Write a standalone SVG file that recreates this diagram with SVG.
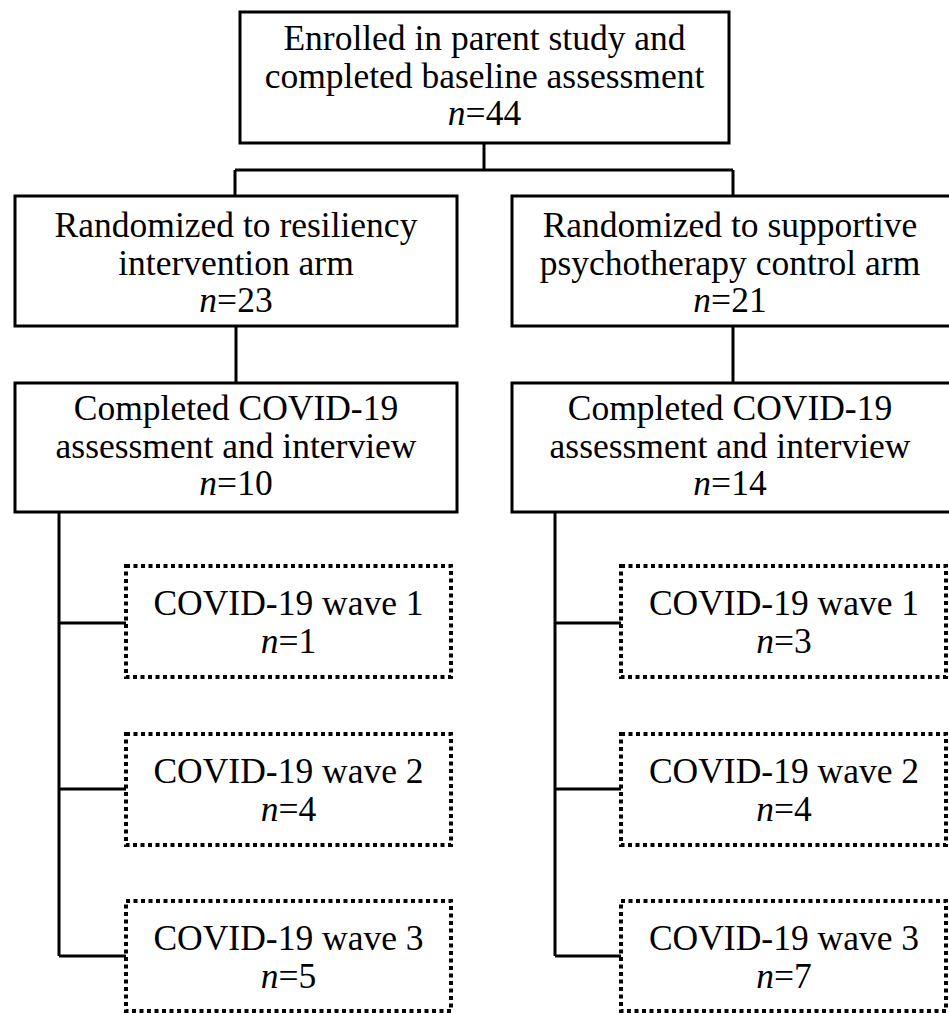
<svg xmlns="http://www.w3.org/2000/svg" width="949" height="1013" viewBox="0 0 949 1013">
<style>
.box{fill:#fff;stroke:#000;stroke-width:3}
.dot{fill:#fff;stroke:#000;stroke-width:4;stroke-dasharray:4 3.5}
.ln{fill:none;stroke:#000;stroke-width:3}
text{font-family:"Liberation Serif","Times New Roman",serif;font-size:35.5px;fill:#000;text-anchor:middle}
.i{font-style:italic}
</style>
<rect width="949" height="1013" fill="#fff"/>
<g id="connectors">
<path class="ln" d="M484,143 V170 M235,170 H733 M235,170 V196 M733,170 V196"/>
<path class="ln" d="M236,326 V383 M733,326 V383"/>
<path class="ln" d="M59,512 V956 M59,623 H126 M59,789 H126 M59,956 H126"/>
<path class="ln" d="M555,512 V956 M555,623 H621 M555,789 H621 M555,956 H621"/>
</g>
<g id="enrolled">
<rect class="box" x="240" y="12" width="489" height="131"/>
<text x="484.5" y="50">Enrolled in parent study and</text>
<text x="484.5" y="87.5">completed baseline assessment</text>
<text x="484.5" y="125"><tspan class="i">n</tspan>=44</text>
</g>
<g id="resiliency">
<rect class="box" x="15" y="196" width="442" height="130"/>
<text x="236" y="237">Randomized to resiliency</text>
<text x="236" y="274.5">intervention arm</text>
<text x="236" y="312"><tspan class="i">n</tspan>=23</text>
</g>
<g id="supportive">
<rect class="box" x="512" y="196" width="450" height="130"/>
<text x="730" y="237">Randomized to supportive</text>
<text x="730" y="274.5">psychotherapy control arm</text>
<text x="730" y="312"><tspan class="i">n</tspan>=21</text>
</g>
<g id="covid-left">
<rect class="box" x="15" y="383" width="442" height="129"/>
<text x="236" y="420">Completed COVID-19</text>
<text x="236" y="457.5">assessment and interview</text>
<text x="236" y="495"><tspan class="i">n</tspan>=10</text>
</g>
<g id="covid-right">
<rect class="box" x="512" y="383" width="450" height="129"/>
<text x="730" y="420">Completed COVID-19</text>
<text x="730" y="457.5">assessment and interview</text>
<text x="730" y="495"><tspan class="i">n</tspan>=14</text>
</g>
<g id="left-wave1">
<rect class="dot" x="126" y="566" width="325" height="111"/>
<text x="288.5" y="615">COVID-19 wave 1</text>
<text x="288.5" y="653"><tspan class="i">n</tspan>=1</text>
</g>
<g id="left-wave2">
<rect class="dot" x="126" y="734" width="325" height="111"/>
<text x="288.5" y="783">COVID-19 wave 2</text>
<text x="288.5" y="821"><tspan class="i">n</tspan>=4</text>
</g>
<g id="left-wave3">
<rect class="dot" x="126" y="901" width="325" height="110"/>
<text x="288.5" y="950">COVID-19 wave 3</text>
<text x="288.5" y="988"><tspan class="i">n</tspan>=5</text>
</g>
<g id="right-wave1">
<rect class="dot" x="621" y="566" width="325" height="111"/>
<text x="784" y="615">COVID-19 wave 1</text>
<text x="784" y="653"><tspan class="i">n</tspan>=3</text>
</g>
<g id="right-wave2">
<rect class="dot" x="621" y="734" width="325" height="111"/>
<text x="784" y="783">COVID-19 wave 2</text>
<text x="784" y="821"><tspan class="i">n</tspan>=4</text>
</g>
<g id="right-wave3">
<rect class="dot" x="621" y="901" width="325" height="110"/>
<text x="784" y="950">COVID-19 wave 3</text>
<text x="784" y="988"><tspan class="i">n</tspan>=7</text>
</g>
</svg>
